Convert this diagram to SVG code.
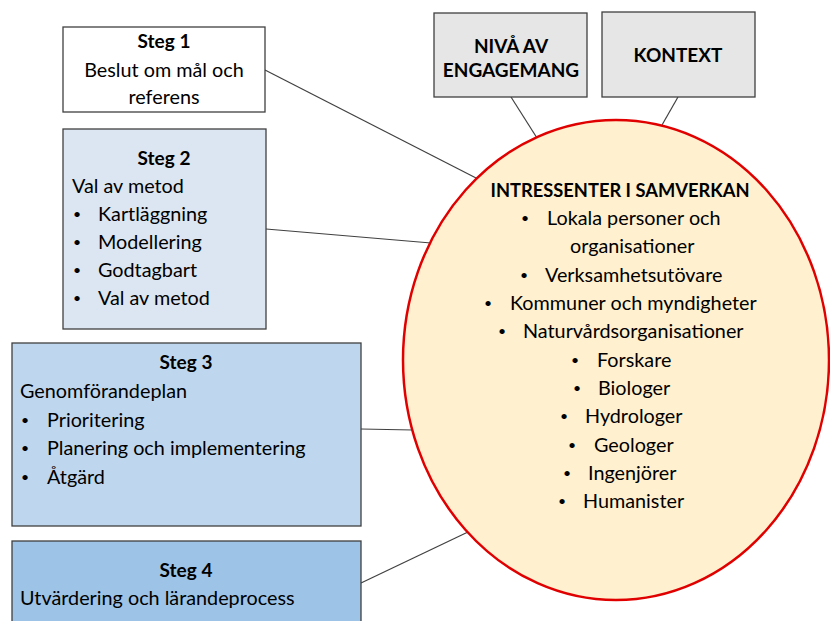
<svg xmlns="http://www.w3.org/2000/svg" width="830" height="621" viewBox="0 0 830 621">
<style>
text{font-family:Lato,"Open Sans","Liberation Sans",sans-serif;font-size:19.8px;fill:#000}
.b{font-weight:bold;font-size:19px}
.t{font-size:18.3px}
.m{text-anchor:middle}
.u{font-size:14px}
.box{stroke:#404040;stroke-width:1.3}
.conn line{stroke:#404040;stroke-width:1.2}
</style>
<rect width="830" height="621" fill="#ffffff"/>
<g class="conn" id="connectors">
<line x1="265" y1="70" x2="478" y2="179"/>
<line x1="266" y1="229" x2="431" y2="243"/>
<line x1="361" y1="429" x2="413" y2="430"/>
<line x1="361" y1="583" x2="468" y2="532"/>
<line x1="511" y1="97" x2="537" y2="138"/>
<line x1="678" y1="97" x2="662" y2="125"/>
</g>
<g id="steg1">
<rect class="box" x="63" y="27" width="202" height="85" fill="#ffffff"/>
<text class="b m" x="164" y="48">Steg 1</text>
<text class="m" x="164" y="77">Beslut om mål och</text>
<text class="m" x="164" y="104">referens</text>
</g>
<g id="steg2">
<rect class="box" x="63" y="129" width="203" height="200" fill="#dce6f2"/>
<text class="b m" x="164" y="165">Steg 2</text>
<text x="72" y="193">Val av metod</text>
<text class="u" x="73" y="219">•</text><text x="98" y="221">Kartläggning</text>
<text class="u" x="73" y="247">•</text><text x="98" y="249">Modellering</text>
<text class="u" x="73" y="275">•</text><text x="98" y="277">Godtagbart</text>
<text class="u" x="73" y="303">•</text><text x="98" y="305">Val av metod</text>
</g>
<g id="steg3">
<rect class="box" x="12" y="343" width="349" height="183" fill="#bfd7ee"/>
<text class="b m" x="186" y="369">Steg 3</text>
<text x="20" y="398">Genomförandeplan</text>
<text class="u" x="21" y="425">•</text><text x="47" y="427">Prioritering</text>
<text class="u" x="21" y="453">•</text><text x="47" y="455">Planering och implementering</text>
<text class="u" x="21" y="482">•</text><text x="47" y="484">Åtgärd</text>
</g>
<g id="steg4">
<rect class="box" x="12" y="541" width="349" height="100" fill="#9dc3e6"/>
<text class="b m" x="186" y="577">Steg 4</text>
<text x="20" y="605">Utvärdering och lärandeprocess</text>
</g>
<g id="niva">
<rect class="box" x="434" y="13" width="153" height="84" fill="#e6e6e6"/>
<text class="b m" x="511" y="53">NIVÅ AV</text>
<text class="b m" x="511" y="77">ENGAGEMANG</text>
</g>
<g id="kontext">
<rect class="box" x="602" y="12" width="153" height="85" fill="#e6e6e6"/>
<text class="b m" x="678" y="62">KONTEXT</text>
</g>
<g id="intressenter">
<ellipse cx="616" cy="360" rx="213" ry="240" fill="#fff0cf" stroke="#e00000" stroke-width="2.5"/>
<text class="b t m" x="620" y="197">INTRESSENTER I SAMVERKAN</text>
<text class="u" x="521" y="223">•</text><text x="547" y="225">Lokala personer och</text>
<text x="570" y="253">organisationer</text>
<text class="u" x="520" y="280">•</text><text x="545" y="282">Verksamhetsutövare</text>
<text class="u" x="484" y="308">•</text><text x="510" y="310">Kommuner och myndigheter</text>
<text class="u" x="498" y="336">•</text><text x="523" y="338">Naturvårdsorganisationer</text>
<text class="u" x="571" y="365">•</text><text x="597" y="367">Forskare</text>
<text class="u" x="573" y="393">•</text><text x="598" y="395">Biologer</text>
<text class="u" x="560" y="421">•</text><text x="585" y="423">Hydrologer</text>
<text class="u" x="568" y="450">•</text><text x="594" y="452">Geologer</text>
<text class="u" x="563" y="478">•</text><text x="588" y="480">Ingenjörer</text>
<text class="u" x="558" y="506">•</text><text x="583" y="508">Humanister</text>
</g>
</svg>
